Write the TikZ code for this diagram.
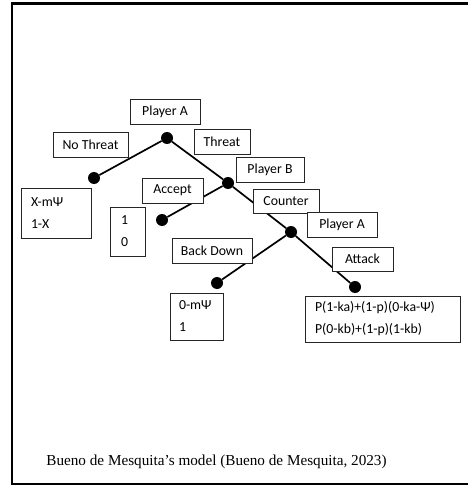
\documentclass[tikz,border=0pt]{standalone}
\usepackage{fontspec}
\setmainfont{Carlito}
\newfontfamily\capfont{Liberation Serif}
\usetikzlibrary{backgrounds}

\begin{document}
\begin{tikzpicture}[x=1pt,y=-1pt,
        every node/.style={font=\fontsize{13.8}{16}\selectfont},
        tag/.style={draw=black!85,line width=0.9pt,fill=white,inner sep=0pt,minimum height=25pt},
        payoff/.style={tag,align=left},
        dot/.style={circle,fill=black,inner sep=0pt,minimum size=12pt},
        branch/.style={line width=1.7pt}]
        % fix the size of the page
        \useasboundingbox (0,0) rectangle (468,489);
        % outer frame, open on the right
        \draw[line width=2.4pt] (468,3.5) -- (12,3.5) -- (12,484) -- (468,484);

        % decision and end points of the tree
        \node[dot] (root) at (167,138) {};
        \node[dot] (nothreat) at (94,178) {};
        \node[dot] (playerb) at (228,183) {};
        \node[dot] (accept) at (162,220) {};
        \node[dot] (playera) at (291,232) {};
        \node[dot] (backdown) at (217,283) {};
        \node[dot] (attack) at (355,287) {};

        % branches go behind the dots and the labels
        \begin{scope}[on background layer]
            \draw[branch] (root) -- (nothreat);
            \draw[branch] (root) -- (playerb);
            \draw[branch] (playerb) -- (accept);
            \draw[branch] (playerb) -- (playera);
            \draw[branch] (playera) -- (backdown);
            \draw[branch] (playera) -- (attack);
        \end{scope}

        % players and moves
        \node[tag,minimum width=70pt] (pa) at (165,111.5) {Player A};
        \node[tag,minimum width=75pt] (nt) at (90.5,144.5) {No Threat};
        \node[tag,minimum width=56pt] (th) at (222,141.5) {Threat};
        \node[tag,minimum width=68pt] (pb) at (270,169.5) {Player B};
        \node[tag,minimum width=61pt] (ac) at (172.5,190.5) {Accept};
        \node[tag,minimum width=66pt,minimum height=24pt] (co) at (286,201) {Counter};
        \node[tag,minimum width=70pt] (pa2) at (342,224.5) {Player A};
        \node[tag,minimum width=80pt] (bd) at (212,250.5) {Back Down};
        \node[tag,minimum width=61pt,minimum height=24pt] (at) at (362.5,259) {Attack};

        % payoffs at the ends
        \node[payoff,minimum width=70pt,minimum height=50pt,text width=50pt] (pay1) at (56,213)
            {X-mΨ\\[6pt]1-X};
        \node[payoff,minimum width=35pt,minimum height=49pt,text width=13pt] (pay2) at (127.5,231.5)
            {1\\[6pt]0};
        \node[payoff,minimum width=53pt,minimum height=47pt,text width=35pt] (pay3) at (196.5,316.5)
            {0-mΨ\\[6pt]1};
        \node[payoff,minimum width=155pt,minimum height=46pt,text width=135pt] (pay4) at (382.5,319)
            {P(1-ka)+(1-p)(0-ka-Ψ)\\[6pt]P(0-kb)+(1-p)(1-kb)};

        % caption
        \node[font=\capfont\fontsize{15.2}{18}\selectfont] (cap) at (216.5,462)
            {Bueno de Mesquita’s model (Bueno de Mesquita, 2023)};
\end{tikzpicture}
\end{document}
